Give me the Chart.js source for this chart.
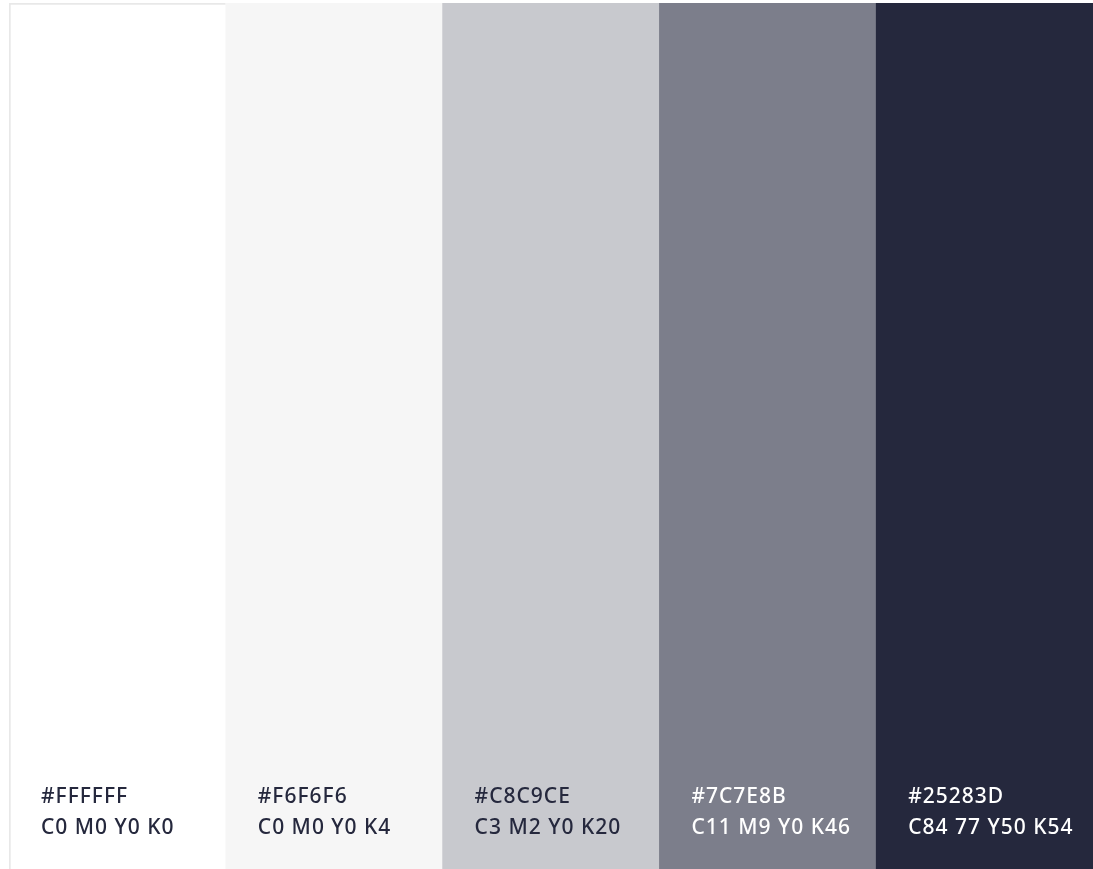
<!DOCTYPE html>
<html>
<head>
<meta charset="utf-8">
<script src="https://cdn.jsdelivr.net/npm/chart.js@4"></script>
<style>
  html, body { margin: 0; padding: 0; background: #ffffff; }
  #wrap { width: 1093px; height: 869px; position: relative; }
</style>
</head>
<body>
<div id="wrap"><canvas id="palette"></canvas></div>
<script>
// palette swatches
const swatches = ['#FFFFFF', '#F6F6F6', '#C8C9CE', '#7C7E8B', '#25283D'];
const cmykLabels = ['C0 M0 Y0 K0', 'C0 M0 Y0 K4', 'C3 M2 Y0 K20', 'C11 M9 Y0 K46', 'C84 77 Y50 K54'];
const heights = [1, 1, 1, 1, 1];
const textColors = ['#25283D', '#25283D', '#25283D', '#FFFFFF', '#FFFFFF'];

// write the hex + cmyk text at the bottom of each swatch
const swatchText = {
    id: 'swatchText',
    afterDatasetsDraw(chart) {
        const ctx = chart.ctx;
        const bottom = chart.chartArea.bottom;
        chart.getDatasetMeta(0).data.forEach((bar, i) => {
            const left = bar.x - bar.width / 2 + 32;
            ctx.save();
            ctx.fillStyle = textColors[i];
            ctx.font = '500 21px "Noto Sans", sans-serif';
            ctx.letterSpacing = '1px';
            ctx.textBaseline = 'alphabetic';
            ctx.fillText(swatches[i], left, bottom - 66);
            ctx.fillText(cmykLabels[i], left, bottom - 35);
            ctx.restore();
        });
    }
};

new Chart(document.getElementById('palette'), {
    type: 'bar',
    data: {
        labels: swatches,
        datasets: [{
            data: heights,
            backgroundColor: swatches,
            borderColor: ['#E8E8E8', 'rgba(0,0,0,0)', 'rgba(0,0,0,0)', 'rgba(0,0,0,0)', 'rgba(0,0,0,0)'],
            borderWidth: [{ left: 2, top: 2, right: 0, bottom: 0 }, 0, 0, 0, 0],
            borderSkipped: false,
            barPercentage: 1,
            categoryPercentage: 1
        }]
    },
    options: {
        responsive: true,
        maintainAspectRatio: false,
        animation: false,
        layout: { padding: { left: 9, top: 3, right: 0, bottom: 0 } },
        plugins: {
            legend: { display: false },
            tooltip: { enabled: false }
        },
        scales: {
            x: { display: false },
            y: { display: false, min: 0, max: 1 }
        }
    },
    plugins: [swatchText]
});
</script>
</body>
</html>
